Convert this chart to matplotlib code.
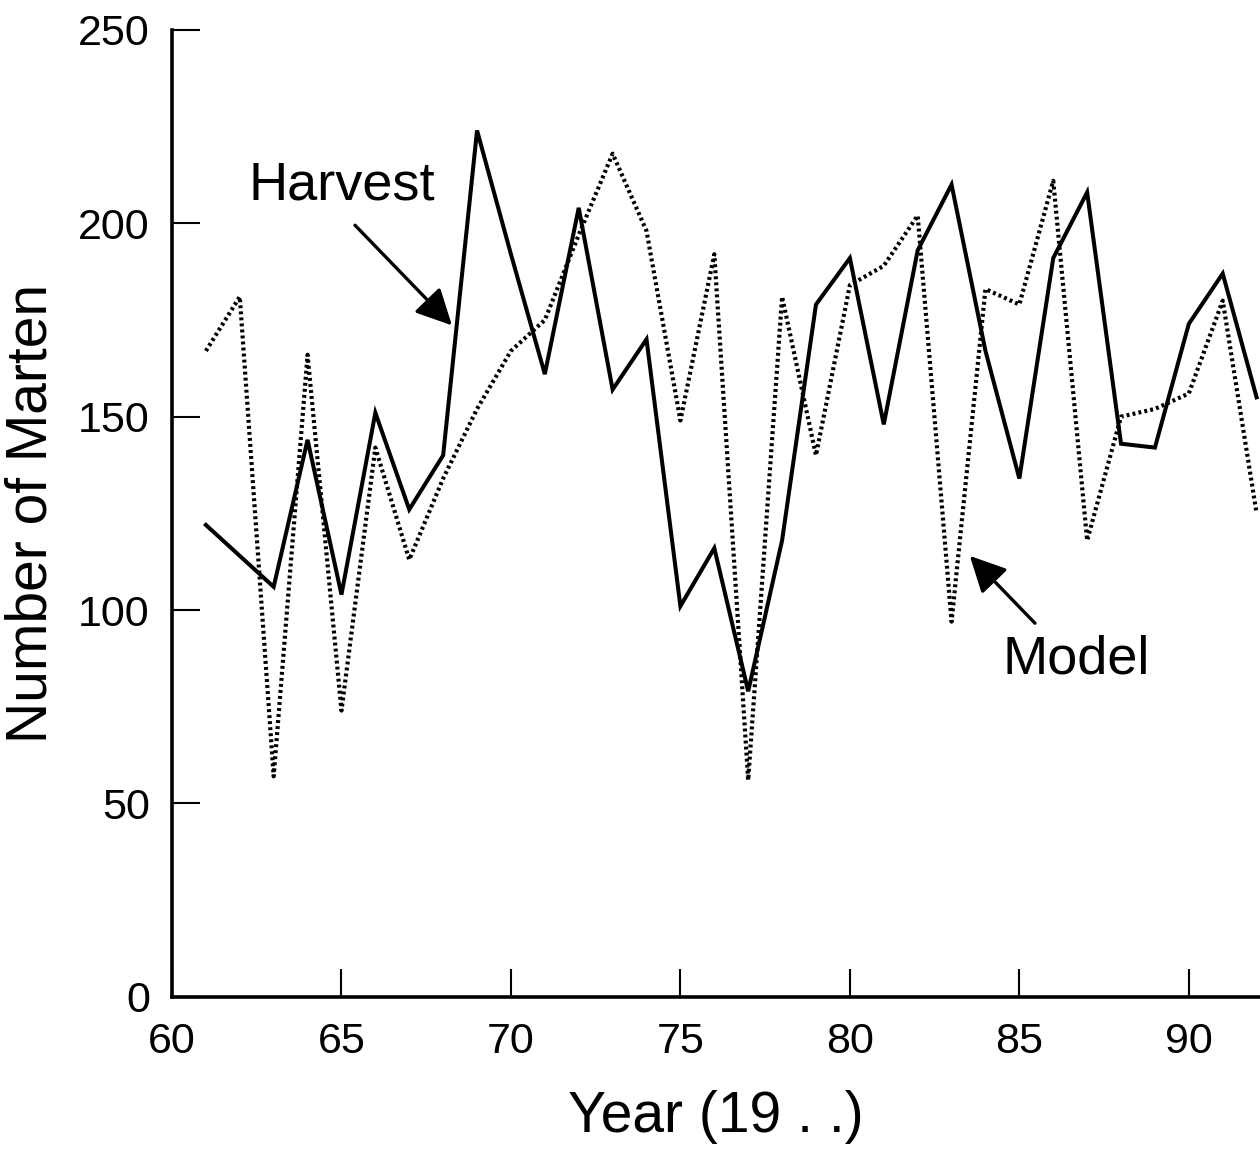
import numpy as np
import matplotlib.pyplot as plt

plt.rcParams['font.family'] = ['Liberation Sans', 'DejaVu Sans']

years = np.arange(61, 93)
harvest = [122, 114, 106, 144, 104, 151, 126, 140, 224, 192, 161, 204, 157, 170, 101, 116,
           79, 118, 179, 191, 148, 193, 210, 167, 134, 191, 208, 143, 142, 174, 187, 155]
model = [167, 181, 57, 166, 74, 142, 113, 134, 152, 167, 175, 197, 218, 198, 149, 192,
         56, 181, 140, 184, 189, 202, 97, 183, 179, 211, 118, 150, 152, 156, 180, 125]

xticks = [60, 65, 70, 75, 80, 85, 90]
yticks = [0, 50, 100, 150, 200, 250]

fig = plt.figure(figsize=(12.6, 11.51), dpi=100)
ax = fig.add_axes([0.1365, 0.134, 0.8635, 0.84])

ax.plot(years, harvest, color='black', lw=2.9, solid_joinstyle='miter')
ax.plot(years, model, color='black', lw=3.0, linestyle=(0, (0.7, 0.75)))

ax.set_xlim(60, 92.1)
ax.set_ylim(0, 250)
ax.set_xticks(xticks)
ax.set_yticks(yticks)
ax.tick_params(direction='in', length=20, width=1.5, labelsize=31)
ax.tick_params(axis='x', pad=18)
ax.tick_params(axis='y', pad=16)
for side in ('top', 'right'):
    ax.spines[side].set_visible(False)
for side in ('left', 'bottom'):
    ax.spines[side].set_linewidth(2.6)

ax.set_xlabel('Year (19 . .)', fontsize=41, labelpad=20)
ax.set_ylabel('Number of Marten', fontsize=41, labelpad=14)

arrow = dict(arrowstyle='-|>', mutation_scale=55, lw=2.4, color='black',
             facecolor='#3a3a3a', shrinkA=0, shrinkB=0)
ax.text(65.0, 209.8, 'Harvest', fontsize=39, ha='center', va='center')
ax.annotate('', xy=(68.26, 173.6), xytext=(65.4, 199.5), arrowprops=arrow)
ax.text(86.67, 87.3, 'Model', fontsize=39, ha='center', va='center')
ax.annotate('', xy=(83.54, 114), xytext=(85.46, 96.6), arrowprops=arrow)

fig.savefig('out.png', dpi=100)
